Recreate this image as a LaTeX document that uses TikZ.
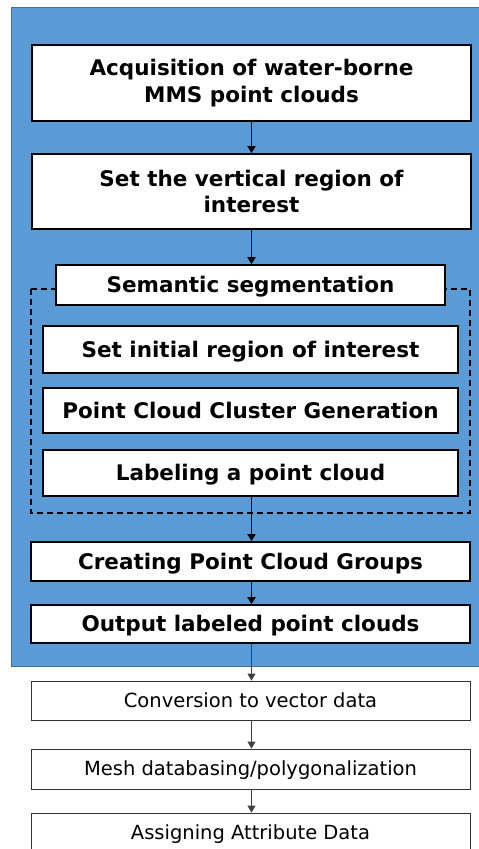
\documentclass[tikz,border=0pt]{standalone}
\usepackage{fontspec}
\setmainfont{DejaVu Sans}
\usetikzlibrary{arrows.meta}
\definecolor{bgblue}{HTML}{5B9BD5}
\definecolor{bgedge}{HTML}{41719C}
\tikzset{
  boldbox/.style={draw=black, line width=1.6pt, fill=white, inner sep=0pt,
    font=\fontsize{21.5}{26.5}\selectfont\bfseries, align=center},
  onebox/.style={boldbox, text depth=1pt},
  thinbox/.style={draw=black!80, line width=0.8pt, fill=white, inner sep=0pt,
    font=\fontsize{19.5}{24}\selectfont, align=center, text depth=1pt},
  boldarrow/.style={draw=black, line width=1.7pt, -{Triangle[length=7pt,width=8pt]}},
  thinarrow/.style={draw=black!75, line width=0.8pt, -{Triangle[length=7pt,width=8pt]}},
}
\begin{document}
\begin{tikzpicture}[x=1pt,y=-1pt]
\useasboundingbox (0,0) rectangle (479,849);
\begin{scope}
\clip (0,0) rectangle (479,849);
\fill[bgblue, draw=bgedge, line width=0.8pt] (11,7) rectangle (485,666);

\node[boldbox, minimum width=439, minimum height=76] (acq) at (251.5,83)
  {Acquisition of water-borne\\MMS point clouds};
\node[boldbox, minimum width=439, minimum height=75] (vroi) at (251.5,191.5)
  {Set the vertical region of\\interest};

\draw[black, line width=1.3pt, dash pattern=on 6pt off 4pt] (31,289) rectangle (470,513);

\node[onebox, minimum width=389, minimum height=40] (sem) at (250.5,285)
  {Semantic segmentation};
\node[onebox, minimum width=415, minimum height=47] (init) at (250.5,349.5)
  {Set initial region of interest};
\node[onebox, minimum width=415, minimum height=45] (clus) at (250.5,410.5)
  {Point Cloud Cluster Generation};
\node[onebox, minimum width=415, minimum height=46] (lab) at (250.5,473)
  {Labeling a point cloud};
\node[onebox, minimum width=439, minimum height=39] (grp) at (250.5,561.5)
  {Creating Point Cloud Groups};
\node[onebox, minimum width=439, minimum height=38] (out) at (250.5,624)
  {Output labeled point clouds};

\node[thinbox, minimum width=439, minimum height=39] (conv) at (250.5,700.5)
  {Conversion to vector data};
\node[thinbox, minimum width=439, minimum height=40] (mesh) at (250.5,769)
  {Mesh databasing/polygonalization};
\node[thinbox, minimum width=439, minimum height=40] (attr) at (250.5,833)
  {Assigning Attribute Data};

\draw[boldarrow] (acq.south -| 251.5,0) -- (vroi.north -| 251.5,0);
\draw[boldarrow] (vroi.south -| 251.5,0) -- (sem.north -| 251.5,0);
\draw[boldarrow] (lab.south -| 251.5,0) -- (grp.north -| 251.5,0);
\draw[boldarrow] (grp.south -| 251.5,0) -- (out.north -| 251.5,0);
\draw[thinarrow] (out.south -| 251.5,0) -- (conv.north -| 251.5,0);
\draw[thinarrow] (conv.south -| 251.5,0) -- (mesh.north -| 251.5,0);
\draw[thinarrow] (mesh.south -| 251.5,0) -- (attr.north -| 251.5,0);
\end{scope}
\end{tikzpicture}
\end{document}
